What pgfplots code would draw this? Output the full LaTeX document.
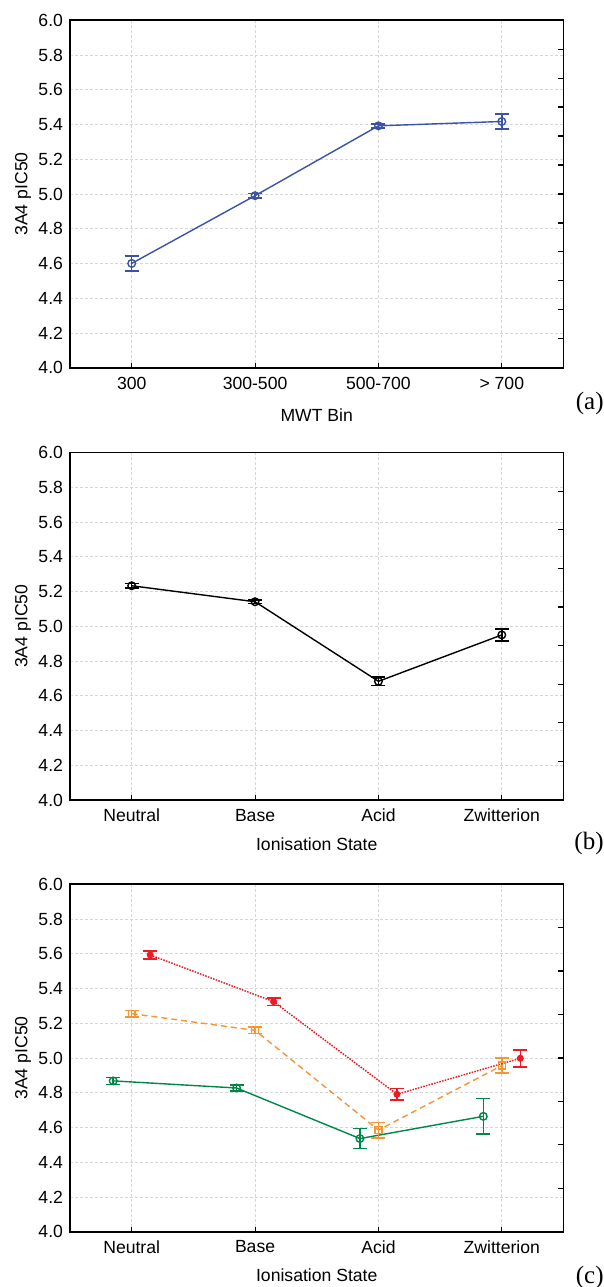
\documentclass[border=0pt]{standalone}
\usepackage{fontspec}
\setmainfont{Liberation Sans}
\newfontfamily\timesf{Liberation Serif}
\usepackage{pgfplots}
\pgfplotsset{compat=1.18}

\definecolor{cblue}{RGB}{58,83,164}
\definecolor{cgreen}{RGB}{0,135,72}
\definecolor{corange}{RGB}{247,148,52}
\definecolor{cred}{RGB}{237,28,36}

\pgfplotsset{
 geom/.style={scale only axis, width=246.75pt, height=173.75pt, anchor=south west,
   xmin=-0.5, xmax=3.5, ymin=4, ymax=6},
 panel/.style={geom,
  ytick={4.0,4.2,4.4,4.6,4.8,5.0,5.2,5.4,5.6,5.8,6.0},
  yticklabel style={/pgf/number format/fixed, /pgf/number format/fixed zerofill, /pgf/number format/precision=1},
  /pgf/number format/assume math mode=true,
  xtick={0,1,2,3},
  grid=major,
  major grid style={draw=black!16, dash pattern=on 1.5pt off 1pt, line width=0.4pt},
  axis line style={line width=0.9pt},
  xtick pos=bottom, tick align=inside, major tick length=2.5pt,
  xtick style={black, line width=0.5pt},
  ytick style={draw=none},
  ticklabel style={font=\fontsize{8.8}{10}\selectfont},
  xticklabel style={yshift=-1pt},
  label style={font=\fontsize{8.8}{10}\selectfont},
  ylabel={3A4 pIC50},
  ylabel style={at={(axis description cs:-0.0953,0.5)}, anchor=center},
  clip=false,
 },
 rticks/.style={geom, axis line style={draw=none}, xtick=\empty, yticklabels={},
   ytick pos=right, tick align=inside, major tick length=2.5pt, tick style={black, line width=0.6pt}},
 ebars/.style={error bars/.cd, y dir=both, y explicit,
   error bar style={line width=0.8pt, solid},
   error mark options={rotate=90, mark size=3.5pt, line width=0.8pt, solid}},
}

\begin{document}
\begin{tikzpicture}
\useasboundingbox (0,0) rectangle (302pt,643.5pt);

% ---------- (a) ----------
\begin{axis}[panel, at={(35pt,459.65pt)},
  xticklabels={300, 300-500, 500-700, > 700},
  xlabel={MWT Bin},
  xlabel style={at={(axis description cs:0.5,-0.137)}, anchor=center}]
\addplot+[cblue, line width=0.7pt, mark=o, mark size=1.9pt, mark options={solid, line width=0.7pt}, ebars]
 coordinates {
 (0,4.600) +- (0,0.043)
 (1,4.990) +- (0,0.012)
 (2,5.392) +- (0,0.012)
 (3,5.417) +- (0,0.044)
 };
\end{axis}
\begin{axis}[rticks, at={(35pt,459.65pt)},
  ytick={4.1667,4.3333,4.5,4.6667,4.8333,5,5.1667,5.3333,5.5,5.6667,5.8333}]
\end{axis}
\node[anchor=east, inner sep=0, font=\timesf\fontsize{12.5}{14}\selectfont] at (302pt,442pt) {(a)};

% ---------- (b) ----------
\begin{axis}[panel, at={(35pt,243.5pt)},
  xticklabels={Neutral, Base, Acid, Zwitterion},
  xlabel={Ionisation State},
  xlabel style={at={(axis description cs:0.5,-0.1266)}, anchor=center}]
\addplot+[black, line width=0.7pt, mark=o, mark size=1.9pt, mark options={solid, line width=0.7pt}, ebars]
 coordinates {
 (0,5.233) +- (0,0.012)
 (1,5.141) +- (0,0.010)
 (2,4.683) +- (0,0.025)
 (3,4.950) +- (0,0.034)
 };
\end{axis}
\begin{axis}[rticks, at={(35pt,243.5pt)},
  ytick={4.2222,4.4444,4.6667,4.8889,5.1111,5.3333,5.5556,5.7778}]
\end{axis}
\node[anchor=east, inner sep=0, font=\timesf\fontsize{12.5}{14}\selectfont] at (302pt,222pt) {(b)};

% ---------- (c) ----------
\begin{axis}[panel, at={(35pt,27.65pt)},
  xticklabels={Neutral, Base, Acid, Zwitterion},
  xlabel={Ionisation State},
  xlabel style={at={(axis description cs:0.5,-0.1258)}, anchor=center}]
\addplot+[cgreen, solid, line width=0.7pt, mark=o, mark size=1.9pt, mark options={solid, line width=0.7pt}, ebars]
 coordinates {
 (-0.15,4.868) +- (0,0.020)
 (0.85,4.827) +- (0,0.018)
 (1.85,4.536) +- (0,0.058)
 (2.85,4.664) +- (0,0.103)
 };
\addplot+[corange, dash pattern=on 3pt off 2pt, line width=0.7pt, mark=square, mark size=1.7pt, mark options={solid, line width=0.7pt}, ebars]
 coordinates {
 (0,5.255) +- (0,0.019)
 (1,5.159) +- (0,0.018)
 (2,4.585) +- (0,0.044)
 (3,4.956) +- (0,0.042)
 };
\addplot+[cred, dash pattern=on 0.8pt off 0.6pt, line width=0.7pt, mark=*, mark size=1.4pt, mark options={solid, fill=cred}, ebars]
 coordinates {
 (0.15,5.593) +- (0,0.022)
 (1.15,5.324) +- (0,0.021)
 (2.15,4.791) +- (0,0.033)
 (3.15,4.998) +- (0,0.049)
 };
\end{axis}
\begin{axis}[rticks, at={(35pt,27.65pt)},
  ytick={4.25,4.5,4.75,5,5.25,5.5,5.75}]
\end{axis}
\node[anchor=east, inner sep=0, font=\timesf\fontsize{12.5}{14}\selectfont] at (302pt,5pt) {(c)};
\end{tikzpicture}
\end{document}
